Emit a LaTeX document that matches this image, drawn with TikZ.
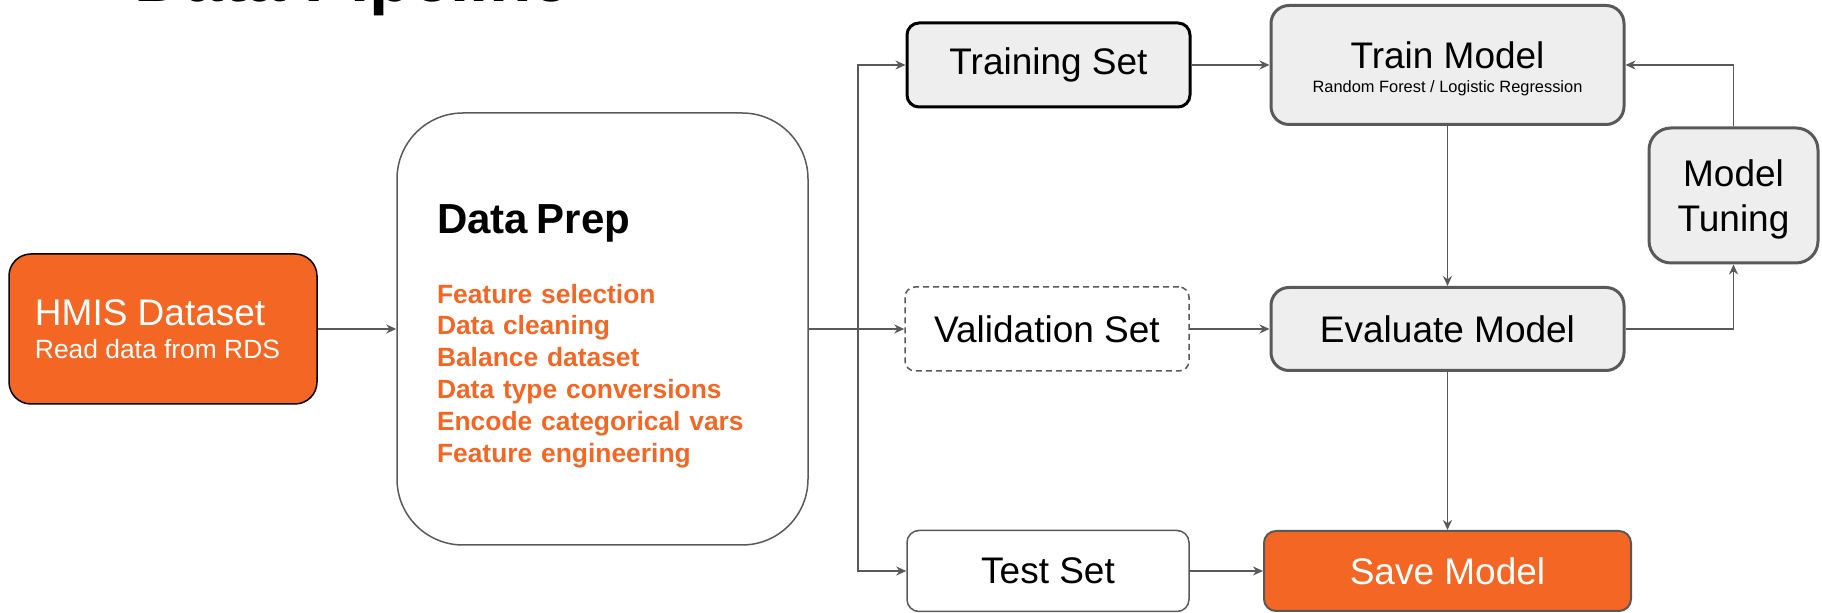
\documentclass[tikz,border=0pt]{standalone}
\usepackage{fontspec}
\setmainfont{Liberation Sans}
\usetikzlibrary{arrows.meta,positioning}

\definecolor{hmisorange}{RGB}{243,102,35}
\definecolor{edgegrey}{RGB}{89,89,89}
\definecolor{boxgrey}{RGB}{238,238,238}

\begin{document}
\begin{tikzpicture}[x=0.5pt,y=-0.5pt,>={Stealth[length=5pt,width=4.5pt]},
	flow/.style={draw=edgegrey,line width=0.75pt},
	box/.style={rounded corners=6pt,inner sep=0pt,align=center,font=\fontsize{18.5}{22}\selectfont},
	greybox/.style={box,fill=boxgrey,draw=edgegrey,line width=1.5pt},
	orangebox/.style={box,fill=hmisorange,text=white}
	]

	\useasboundingbox (0,0) rectangle (1822,613);

	\node[anchor=base west,inner sep=0pt,font=\fontsize{34.7}{40}\selectfont\bfseries] (title) at (134,2) {Data Pipeline};

	% input and preparation
	\node[orangebox,draw=black,line width=0.75pt,rounded corners=11pt,minimum width=154pt,minimum height=75pt,align=left,font=\fontsize{18.5}{16.5}\selectfont] (hmis) at (163,329) {HMIS Dataset\\{\fontsize{13.2}{15}\selectfont Read data from RDS\rule{5.5pt}{0pt}}};
	\node[draw=edgegrey,line width=0.75pt,rounded corners=33pt,minimum width=205.5pt,minimum height=216pt,text width=165.5pt,inner xsep=20pt,inner ysep=0pt,align=left,text=hmisorange,font=\fontsize{13.2}{15.9}\selectfont\bfseries] (prep) at (602.5,329) {{\color{black}\fontsize{21}{25}\selectfont\rule{0pt}{21.5pt}Data Prep}\\[19.1pt]
		Feature selection\\
		Data cleaning\\
		Balance dataset\\
		Data type conversions\\
		Encode categorical vars\\
		Feature engineering};

	% the three splits
	\node[box,fill=boxgrey,draw=black,line width=1.5pt,minimum width=141.5pt,minimum height=42pt] (trainset) at (1048.5,65) {Training Set};
	\node[box,fill=white,draw=edgegrey,line width=0.75pt,dash pattern=on 3pt off 2pt,rounded corners=5pt,minimum width=142pt,minimum height=42pt] (valset) at (1047,329) {Validation Set};
	\node[box,fill=white,draw=edgegrey,line width=0.75pt,minimum width=141pt,minimum height=40.5pt] (testset) at (1048,571) {Test Set};

	% model nodes
	\node[greybox,rounded corners=9pt,minimum width=176.5pt,minimum height=59.5pt,font=\fontsize{18.5}{12}\selectfont] (trainmodel) at (1447.5,65) {\rule{0pt}{17.5pt}Train Model\\{\fontsize{8.2}{10}\selectfont Random Forest / Logistic Regression}};
	\node[greybox,rounded corners=9pt,minimum width=176.5pt,minimum height=41.5pt] (evalmodel) at (1447.5,329) {Evaluate Model};
	\node[greybox,rounded corners=11pt,minimum width=84.5pt,minimum height=67.5pt,font=\fontsize{18.5}{22.5}\selectfont] (tuning) at (1733.5,195.5) {\rule{0pt}{17.5pt}Model\\Tuning};
	\node[orangebox,draw=edgegrey,line width=1pt,minimum width=183.5pt,minimum height=40pt] (savemodel) at (1447.5,571) {Save Model};

	\coordinate (fork) at (858,329);

	\draw[flow,->] (hmis) -- (prep);
	\draw[flow] (prep.east) -- (fork);
	\draw[flow,->] (fork) |- (trainset.west);
	\draw[flow,->] (fork) -- (valset);
	\draw[flow,->] (fork) |- (testset.west);

	\draw[flow,->] (trainset) -- (trainmodel);
	\draw[flow,->] (trainmodel) -- (evalmodel);
	\draw[flow,->] (valset) -- (evalmodel);
	\draw[flow,->] (evalmodel) -- (savemodel);
	\draw[flow,->] (testset) -- (savemodel);
	\draw[flow,->] (evalmodel.east) -| (tuning.south);
	\draw[flow,->] (tuning.north) |- (trainmodel.east);

\end{tikzpicture}
\end{document}
